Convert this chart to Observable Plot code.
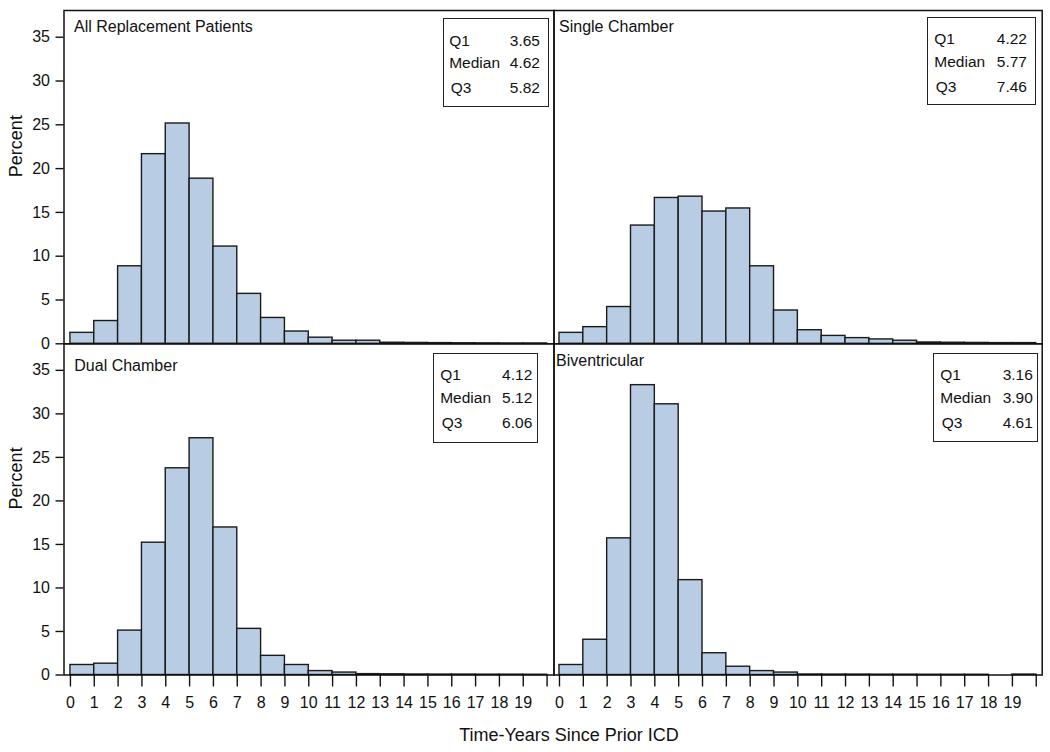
<!DOCTYPE html>
<html><head><meta charset="utf-8">
<script src="https://cdn.jsdelivr.net/npm/d3@7"></script>
<script src="https://cdn.jsdelivr.net/npm/@observablehq/plot@0.6"></script>
<style>
body{margin:0;background:#fff;}
#wrap{position:relative;width:1050px;height:752px;overflow:hidden;font-family:"Liberation Sans",Arial,sans-serif;color:#111;background:#fff;}
#wrap svg{position:absolute;left:0;top:0;}
.title{position:absolute;font-size:16px;line-height:16px;white-space:nowrap;transform:translateY(-50%);}
.xtitle{position:absolute;font-size:18px;line-height:18px;white-space:nowrap;transform:translate(-50%,-50%);}
.box{position:absolute;border:1.5px solid #222;box-sizing:border-box;background:#fff;}
.box span{position:absolute;font-size:15.5px;line-height:16px;transform:translateY(-50%);white-space:nowrap;}
</style></head><body><div id="wrap"></div>
<script>
// ---- data ----
const binStarts = d3.range(0, 20);             // yearly bins 0-1 ... 19-20
const xTicks = d3.range(0, 21);
const yTicks = [0, 5, 10, 15, 20, 25, 30, 35];
const panelTitles = ["All Replacement Patients", "Single Chamber", "Dual Chamber", "Biventricular"];
const allPatients  = [1.25, 2.6, 8.85, 21.65, 25.15, 18.85, 11.1, 5.7, 2.95, 1.4, 0.7, 0.35, 0.35, 0.12, 0.1, 0.08, 0.06, 0.05, 0.04, 0.04];
const singleChamber = [1.25, 1.9, 4.2, 13.5, 16.65, 16.8, 15.1, 15.45, 8.85, 3.8, 1.55, 0.9, 0.65, 0.5, 0.35, 0.15, 0.12, 0.1, 0.08, 0.08];
const dualChamber  = [1.15, 1.3, 5.1, 15.2, 23.75, 27.2, 16.95, 5.3, 2.2, 1.15, 0.45, 0.28, 0.1, 0.08, 0.06, 0.05, 0.05, 0.04, 0.04, 0.03];
const biventricular = [1.15, 4.05, 15.7, 33.3, 31.1, 10.9, 2.5, 0.95, 0.45, 0.28, 0.06, 0.05, 0.05, 0.04, 0.04, 0.03, 0.03, 0.03, 0, 0.05];
const statLabels = ["Q1", "Median", "Q3"];
const statsAll    = ["3.65", "4.62", "5.82"];
const statsSingle = ["4.22", "5.77", "7.46"];
const statsDual   = ["4.12", "5.12", "6.06"];
const statsBiv    = ["3.16", "3.90", "4.61"];

// ---- layout ----
const W = 1050, H = 752;
const panels = [
  {values: allPatients, stats: statsAll, title: panelTitles[0], l: 63.5, r: 553.5, t: 10, b: 343.3, xd: [-0.27, 20.29], yAxis: true, xAxis: false,
   tx: 74, ty: 26.5, box: {x: 442.7, y: 18.3, w: 106.3, h: 88.4, lo: 5.5, ro: 8}},
  {values: singleChamber, stats: statsSingle, title: panelTitles[1], l: 553.5, r: 1041.7, t: 10, b: 343.3, xd: [-0.23, 20.25], yAxis: false, xAxis: false,
   tx: 559, ty: 26.5, box: {x: 927.3, y: 16.7, w: 108.7, h: 88.3, lo: 6, ro: 8}},
  {values: dualChamber, stats: statsDual, title: panelTitles[2], l: 63.5, r: 553.5, t: 343.3, b: 674.5, xd: [-0.27, 20.29], yAxis: true, xAxis: true,
   tx: 74.3, ty: 366.2, box: {x: 432.7, y: 352.7, w: 105.6, h: 90.6, lo: 6.5, ro: 5}},
  {values: biventricular, stats: statsBiv, title: panelTitles[3], l: 553.5, r: 1041.7, t: 343.3, b: 674.5, xd: [-0.23, 20.25], yAxis: false, xAxis: true,
   tx: 556, ty: 361.2, box: {x: 933.3, y: 352.7, w: 105, h: 89, lo: 6, ro: 4.5}}
];
const rowCenters = [21.5, 44, 69];

const wrap = document.getElementById("wrap");

for (const p of panels) {
  const data = binStarts.map((s, i) => ({x1: s, x2: s + 1, v: p.values[i]}));
  const marks = [
    Plot.rectY(data, {x1: "x1", x2: "x2", y: "v", fill: "#b8cce4", stroke: "#1a1a1a", strokeWidth: 1.4}),
    Plot.frame({stroke: "#111", strokeWidth: 1.5})
  ];
  if (p.yAxis) {
    marks.push(Plot.axisY({ticks: yTicks, tickSize: 8, tickPadding: 6, label: null, stroke: "#111", strokeWidth: 1.4, fontSize: 16, fill: "#111"}));
    marks.push(Plot.text(["Percent"], {text: d => d, frameAnchor: "left", rotate: -90, dx: -47.5, fontSize: 18, fill: "#111"}));
  }
  if (p.xAxis) {
    marks.push(Plot.axisX({ticks: xTicks, tickSize: 12, tickPadding: 10, label: null, tickFormat: d => d < 20 ? String(d) : "", stroke: "#111", strokeWidth: 1.4, fontSize: 16, fill: "#111"}));
  }
  const svg = Plot.plot({
    width: W, height: H,
    marginLeft: p.l, marginRight: W - p.r, marginTop: p.t, marginBottom: H - p.b,
    x: {domain: p.xd, axis: p.xAxis ? undefined : null},
    y: {domain: [0, 38.05], axis: p.yAxis ? undefined : null},
    style: {background: "transparent", overflow: "visible", fontFamily: '"Liberation Sans", Arial, sans-serif', fontSize: "16px", color: "#111"},
    marks
  });
  wrap.appendChild(svg);

  const t = document.createElement("div");
  t.className = "title";
  t.style.left = p.tx + "px";
  t.style.top = p.ty + "px";
  t.textContent = p.title;
  wrap.appendChild(t);

  const b = document.createElement("div");
  b.className = "box";
  Object.assign(b.style, {left: p.box.x + "px", top: p.box.y + "px", width: p.box.w + "px", height: p.box.h + "px"});
  statLabels.forEach((lab, i) => {
    const s1 = document.createElement("span");
    s1.textContent = lab;
    s1.style.left = (p.box.lo + (i === 2 ? 1.5 : 0)) + "px";
    s1.style.top = rowCenters[i] + "px";
    const s2 = document.createElement("span");
    s2.textContent = p.stats[i];
    s2.style.right = p.box.ro + "px";
    s2.style.top = rowCenters[i] + "px";
    b.appendChild(s1); b.appendChild(s2);
  });
  wrap.appendChild(b);
}

const xt = document.createElement("div");
xt.className = "xtitle";
xt.style.left = "569px";
xt.style.top = "735px";
xt.textContent = "Time-Years Since Prior ICD";
wrap.appendChild(xt);
</script>
</body></html>
